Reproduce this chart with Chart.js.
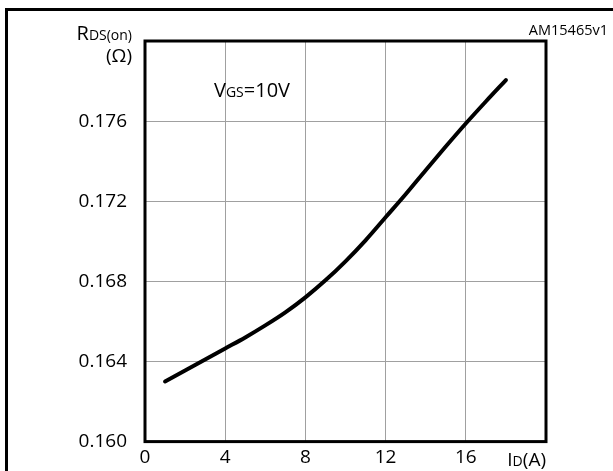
<!DOCTYPE html>
<html>
<head>
<meta charset="utf-8">
<script src="https://cdn.jsdelivr.net/npm/chart.js@4/dist/chart.umd.min.js"></script>
<style>
  html, body { margin: 0; padding: 0; background: #fff; }
  #wrap { position: relative; width: 613px; height: 471px; overflow: hidden; }
  #frame { position: absolute; left: 5px; top: 8px; width: 640px; height: 500px;
           border-top: 3px solid #000; border-left: 3px solid #000; }
  canvas { position: absolute; left: 0; top: 0; }
</style>
</head>
<body>
<div id="wrap">
  <div id="frame"></div>
  <canvas id="rdsChart" width="613" height="471"></canvas>
</div>
<script>
// drain current (A) and on-resistance (ohm)
const drainCurrent = [1, 2, 3, 4, 5, 6, 7, 8, 9, 10, 11, 12, 13, 14, 15, 16, 17, 18];
const rdsOn = [0.16300, 0.16355, 0.16410, 0.16465, 0.16520, 0.16580, 0.16645, 0.16720, 0.16805,
               0.16900, 0.17005, 0.17120, 0.17235, 0.17355, 0.17473, 0.17588, 0.17698, 0.17805];

const xTicks = [0, 4, 8, 12, 16];
const yTicks = [0.160, 0.164, 0.168, 0.172, 0.176];

const FONT = '"Open Sans", "Noto Sans", sans-serif';

// draw text made of runs with different sizes (for subscripts)
function drawRuns(ctx, runs, x, y, align) {
    let total = 0;
    runs.forEach(r => {
        ctx.font = r.s + 'px ' + FONT;
        r.w = ctx.measureText(r.t).width;
        total += r.w;
    });
    let cx = align === 'right' ? x - total : x;
    ctx.textAlign = 'left';
    ctx.textBaseline = 'alphabetic';
    runs.forEach(r => {
        ctx.font = r.s + 'px ' + FONT;
        ctx.fillText(r.t, cx, y);
        cx += r.w;
    });
}

const labelsPlugin = {
    id: 'labels',
    afterDraw(chart) {
        const ctx = chart.ctx;
        const a = chart.chartArea;
        ctx.save();
        // plot frame
        ctx.strokeStyle = '#000';
        ctx.lineWidth = 3;
        ctx.strokeRect(a.left, a.top, a.right - a.left, a.bottom - a.top);

        ctx.fillStyle = '#000';
        drawRuns(ctx, [{t: 'R', s: 20}, {t: 'DS(on)', s: 14}], 132, 40, 'right');
        drawRuns(ctx, [{t: '(Ω)', s: 19}], 132, 62, 'right');
        drawRuns(ctx, [{t: 'V', s: 20}, {t: 'GS', s: 14}, {t: '=10V', s: 20}], 214, 97, 'left');
        drawRuns(ctx, [{t: 'AM15465v1', s: 14.5}], 608, 35, 'right');
        drawRuns(ctx, [{t: 'I', s: 19}, {t: 'D', s: 14}, {t: '(A)', s: 19}], 546, 466, 'right');
        ctx.restore();
    }
};

new Chart(document.getElementById('rdsChart'), {
    type: 'line',
    data: {
        datasets: [{
            data: drainCurrent.map((x, i) => ({ x: x, y: rdsOn[i] })),
            borderColor: '#000',
            borderWidth: 4,
            borderCapStyle: 'round',
            pointRadius: 0,
            cubicInterpolationMode: 'monotone',
            fill: false
        }]
    },
    options: {
        responsive: false,
        animation: false,
        layout: { padding: { left: 0, top: 41, right: 67, bottom: 0 } },
        plugins: {
            legend: { display: false },
            tooltip: { enabled: false }
        },
        scales: {
            x: {
                type: 'linear',
                min: 0,
                max: 20,
                afterFit: scale => { scale.height = 28; },
                afterBuildTicks: scale => {
                    scale.ticks = xTicks.concat([20]).map(v => ({ value: v }));
                },
                ticks: {
                    padding: 5,
                    color: '#000',
                    font: { family: FONT, size: 19 },
                    maxRotation: 0,
                    callback: v => xTicks.includes(v) ? String(v) : ''
                },
                grid: { color: '#a0a0a0', lineWidth: 1, drawTicks: false },
                border: { display: false }
            },
            y: {
                type: 'linear',
                min: 0.160,
                max: 0.180,
                afterFit: scale => { scale.width = 145; },
                afterBuildTicks: scale => {
                    scale.ticks = yTicks.concat([0.180]).map(v => ({ value: v }));
                },
                ticks: {
                    padding: 18,
                    color: '#000',
                    font: { family: FONT, size: 19 },
                    callback: v => v < 0.1795 ? v.toFixed(3) : ''
                },
                grid: { color: '#a0a0a0', lineWidth: 1, drawTicks: false },
                border: { display: false }
            }
        }
    },
    plugins: [labelsPlugin]
});
</script>
</body>
</html>
